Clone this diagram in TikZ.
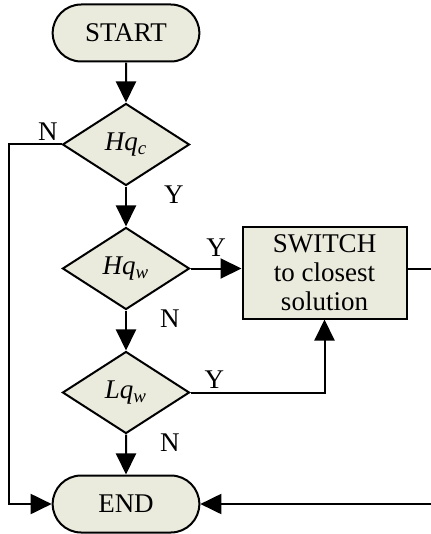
\documentclass[tikz,border=0pt]{standalone}
\usepackage{fontspec}
\setmainfont{Liberation Serif}
\usepackage{tikz}
\usetikzlibrary{positioning,arrows.meta,shapes.geometric,shapes.misc}

\definecolor{boxfill}{RGB}{234,234,221}

\begin{document}
\begin{tikzpicture}[
  x=0.5pt, y=-0.5pt,
  node distance=20pt,
  every node/.style={font=\fontsize{13.5}{14.5}\selectfont},
  term/.style={draw, rounded rectangle, fill=boxfill, line width=1pt, minimum width=80pt, minimum height=28.5pt},
  decide/.style={draw, diamond, fill=boxfill, line width=1pt, aspect=1.55, minimum width=63.5pt, minimum height=41pt, inner sep=1pt},
  procbox/.style={draw, rectangle, fill=boxfill, line width=1pt, minimum width=82pt, minimum height=46pt, align=center, inner sep=2pt},
  arr/.style={-{Triangle[length=10.5pt,width=10pt]}, line width=1pt},
  lbl/.style={inner sep=1.5pt}
]
\useasboundingbox (0,0) rectangle (430,534);

\node[term] (start) at (126,33) {START};
\node[decide, below=of start] (hqc) {\textit{Hq\textsubscript{c}}};
\node[decide, below=of hqc] (hqw) {\textit{Hq\textsubscript{w}}};
\node[decide, below=of hqw] (lqw) {\textit{Lq\textsubscript{w}}};
\node[term, below=of lqw] (stop) {END};

\node[procbox, right=25.5pt of hqw, yshift=-2pt] (sw) {SWITCH\\to closest\\solution};

% main line
\draw[arr] (start) -- (hqc);
\draw[arr] (hqc) -- (hqw) node[lbl, pos=0.2, right=17pt] {Y};
\draw[arr] (hqw) -- (lqw) node[lbl, pos=0.2, right=15pt] {N};
\draw[arr] (lqw) -- (stop) node[lbl, pos=0.2, right=15pt] {N};

% branches
\draw[arr] (hqc.west) node[lbl, above left] {N} -- ++(-26.5pt,0) |- (stop.west);
\draw[arr] (hqw.east) -- (hqw.east -| sw.west) node[lbl, pos=0.5, above=4pt] {Y};
\draw[arr] (lqw.east) node[lbl, above right, xshift=5pt] {Y} -| (sw.south);
\draw[arr] (sw.east |- hqw.east) -- ++(20pt,0) |- (stop.east);

\end{tikzpicture}
\end{document}
